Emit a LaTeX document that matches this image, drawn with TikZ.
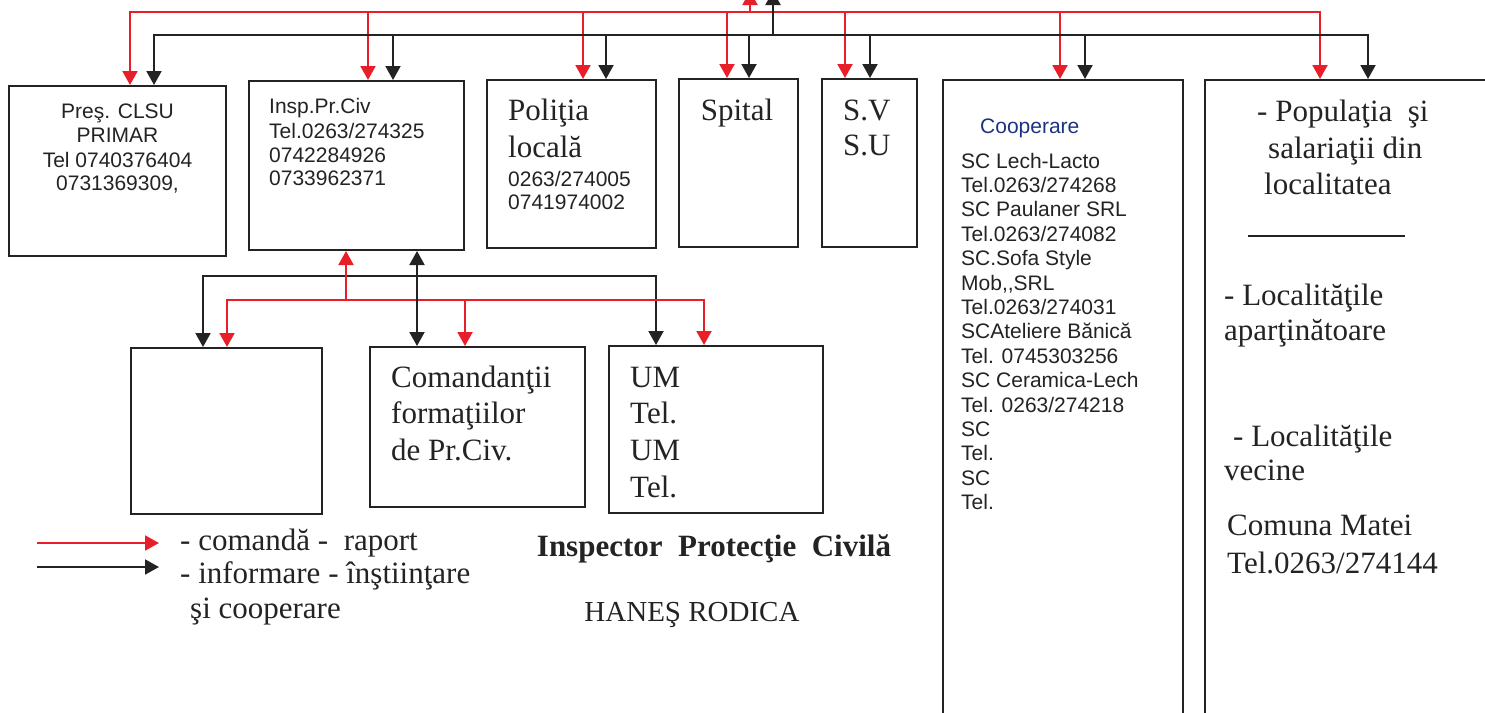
\documentclass[tikz,border=0pt]{standalone}
\usepackage{fontspec}
\setmainfont{Liberation Serif}
\newfontfamily\arialf{Liberation Sans}
\usetikzlibrary{arrows.meta,fit}
\definecolor{lred}{RGB}{232,30,40}
\definecolor{lblk}{RGB}{35,35,35}
\definecolor{cblue}{RGB}{30,50,130}
\tikzset{
  box/.style={draw=lblk, line width=2pt, inner sep=0pt},
  rl/.style={draw=lred, line width=2pt},
  kl/.style={draw=lblk, line width=2pt},
  sans/.style={font=\arialf\fontsize{21}{24}\selectfont, text=lblk, inner sep=0pt},
  serif/.style={font=\fontsize{31}{36}\selectfont, text=lblk, inner sep=0pt},
  bw/.style={anchor=base west},
  bc/.style={anchor=base},
}
\begin{document}
\begin{tikzpicture}[x=1pt,y=-1pt,>={Triangle[width=15pt,length=14pt]}]
\useasboundingbox (0,0) rectangle (1485,712);
\clip (0,0) rectangle (1485,712);
% boxes
\node[box, fit={(9,86) (226,256)}] (pres) {};
\node[box, fit={(249,81) (464,250)}] (insp) {};
\node[box, fit={(487,80) (656,248)}] (pol) {};
\node[box, fit={(679,79) (798,247)}] (spit) {};
\node[box, fit={(822,79) (917,247)}] (sv) {};
\node[box, fit={(943,80) (1183,740)}] (coop) {};
\node[box, fit={(1205,80) (1520,740)}] (pop) {};
\node[box, fit={(131,348) (322,514)}] (lb) {};
\node[box, fit={(370,347) (585,507)}] (com) {};
\node[box, fit={(609,346) (823,513)}] (um) {};
% free ends
\coordinate (upR) at (750,-9);
\coordinate (upK) at (773,-9);
% top red bus
\draw[rl,<->] (130,0 |- pres.north) |- (1320,12) -- (1320,0 |- pop.north);
\foreach \x/\n in {368/insp,583/pol,727/spit,845/sv,1060/coop}
  \draw[rl,->] (\x,12) -- (\x,0 |- \n.north);
\draw[rl,->] (750,12) -- (upR);
% top black bus
\draw[kl,<->] (154,0 |- pres.north) |- (1368,35) -- (1368,0 |- pop.north);
\foreach \x/\n in {393/insp,606/pol,749/spit,870/sv,1085/coop}
  \draw[kl,->] (\x,35) -- (\x,0 |- \n.north);
\draw[kl,->] (773,35) -- (upK);
% middle
\draw[kl,<->] (203,0 |- lb.north) |- (656,276) -- (656,0 |- um.north);
\draw[rl,<->] (227,0 |- lb.north) |- (704,300) -- (704,0 |- um.north);
\draw[rl,->] (465,300) -- (465,0 |- com.north);
\draw[rl,->] (346,300) -- (346,0 |- insp.south);
\draw[kl,<->] (417,0 |- insp.south) -- (417,0 |- com.north);
% texts: Pres
\node[sans,bc] (p1) at (117.5,118) {Preş. CLSU};
\node[sans,bc] (p2) at (117.5,142) {PRIMAR};
\node[sans,bc] (p3) at (117.5,167) {Tel 0740376404};
\node[sans,bc] (p4) at (117.5,190) {0731369309,};
% Insp
\node[sans,bw] (i1) at (269,113) {Insp.Pr.Civ};
\node[sans,bw] (i2) at (269,138) {Tel.0263/274325};
\node[sans,bw] (i3) at (269,162) {0742284926};
\node[sans,bw] (i4) at (269,185) {0733962371};
% Politia
\node[serif,bw] (o1) at (508,120) {Poliţia};
\node[serif,bw] (o2) at (508,157) {locală};
\node[sans,bw] (o3) at (508,186) {0263/274005};
\node[sans,bw] (o4) at (508,209) {0741974002};
% Spital, SV
\node[serif,bc] (s1) at (737,120) {Spital};
\node[serif,bw] (v1) at (843,120) {S.V};
\node[serif,bw] (v2) at (843,155) {S.U};
% Cooperare
\node[sans,bw,text=cblue] (c0) at (980,133) {Cooperare};
\foreach \t [count=\i from 0] in {SC Lech-Lacto,Tel.0263/274268,SC Paulaner SRL,Tel.0263/274082,SC.Sofa Style,{Mob,,SRL},Tel.0263/274031,SCAteliere Bănică,Tel. 0745303256,SC Ceramica-Lech,Tel. 0263/274218,SC,Tel.,SC,Tel.}
  \node[sans,bw] (c\i) at (961,168+24.4*\i) {\t};
% Populatia
\node[serif,bw] (q1) at (1257,121) {- Populaţia\ \ şi};
\node[serif,bw] (q2) at (1268,158) {salariaţii din};
\node[serif,bw] (q3) at (1264,194) {localitatea};
\coordinate (hrA) at (1248,236);
\coordinate (hrB) at (1405,236);
\draw[lblk,line width=1.3pt] (hrA) -- (hrB);
\node[serif,bw] (q4) at (1224,305) {- Localităţile};
\node[serif,bw] (q5) at (1224,340) {aparţinătoare};
\node[serif,bw] (q6) at (1233,446) {- Localităţile};
\node[serif,bw] (q7) at (1224,480) {vecine};
\node[serif,bw] (q8) at (1227,535) {Comuna Matei};
\node[serif,bw] (q9) at (1227,573) {Tel.0263/274144};
% Comandantii
\node[serif,bw] (m1) at (391,387) {Comandanţii};
\node[serif,bw] (m2) at (391,423) {formaţiilor};
\node[serif,bw] (m3) at (391,460) {de Pr.Civ.};
% UM
\node[serif,bw] (u1) at (630,387) {UM};
\node[serif,bw] (u2) at (630,423) {Tel.};
\node[serif,bw] (u3) at (630,460) {UM};
\node[serif,bw] (u4) at (630,497) {Tel.};
% legend
\coordinate (lrA) at (37,543);
\coordinate (lrB) at (159,543);
\coordinate (lkA) at (37,567);
\coordinate (lkB) at (159,567);
\draw[rl,->] (lrA) -- (lrB);
\draw[kl,->] (lkA) -- (lkB);
\node[serif,bw] (g1) at (180,550) {- comandă -\ \ raport};
\node[serif,bw] (g2) at (180,583) {- informare - înştiinţare};
\node[serif,bw] (g3) at (190,618) {şi cooperare};
% title
\node[serif,bc,font=\bfseries\fontsize{31}{36}\selectfont] (t1) at (714,556) {Inspector\ \ Protecţie\ \ Civilă};
\node[serif,bc,font=\fontsize{29}{34}\selectfont] (t2) at (692,621) {HANEŞ RODICA};
\end{tikzpicture}
\end{document}
